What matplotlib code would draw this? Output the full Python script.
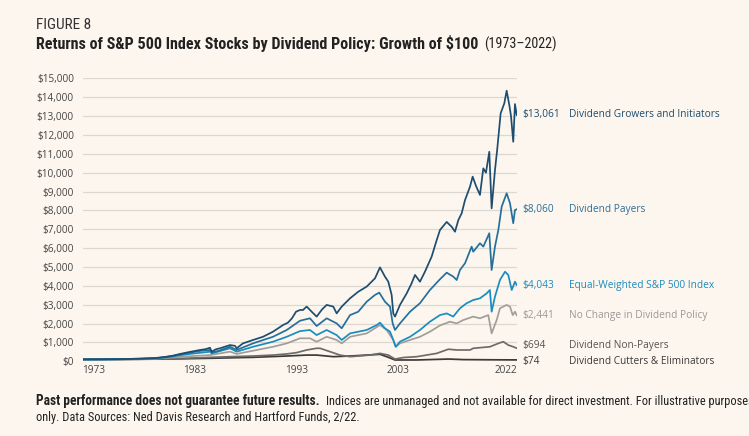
import matplotlib
matplotlib.use("Agg")
import matplotlib.pyplot as plt
from matplotlib.ticker import FuncFormatter
from matplotlib import font_manager as fm

# ---------------- data ----------------
# t = position along the chart's time axis (years, as laid out on the chart)
t_growers = [1972.00, 1973.67, 1975.65, 1977.62, 1979.09, 1980.08, 1980.87, 1981.56, 1982.54, 1983.53,
             1984.12, 1984.51, 1984.68, 1985.10, 1985.50, 1986.48, 1986.98, 1987.14, 1987.76, 1988.75,
             1989.73, 1990.72, 1991.70, 1992.19, 1992.59, 1992.99, 1993.38, 1993.67, 1994.04, 1994.53,
             1995.02, 1995.55, 1996.01, 1996.66, 1996.99, 1997.49, 1998.31, 1999.12, 1999.95, 2000.77,
             2001.26, 2001.75, 2002.08, 2002.41, 2002.57, 2002.74, 2003.23, 2003.89, 2004.38, 2004.71,
             2005.20, 2005.69, 2006.35, 2006.85, 2007.17, 2007.83, 2008.33, 2008.65, 2008.98, 2009.31,
             2009.64, 2010.13, 2010.39, 2010.72, 2011.11, 2011.44, 2011.70, 2012.03, 2012.26, 2012.59,
             2012.82, 2013.15, 2013.51, 2013.74, 2014.00, 2014.17, 2014.39, 2014.56, 2014.73]
v_growers = [100, 105, 115, 140, 170, 230, 300, 390, 500, 600,
             650, 720, 510, 640, 690, 860, 820, 690, 950, 1130,
             1300, 1570, 1920, 2050, 2280, 2630, 2720, 2720, 2900, 2630,
             2370, 2750, 2990, 2900, 2540, 2900, 3340, 3690, 3960, 4400,
             4980, 4490, 4220, 3520, 2540, 2370, 2990, 3600, 4140, 4580,
             4220, 4750, 5550, 6430, 6960, 7390, 7130, 6870, 7490, 7850,
             8550, 9260, 9790, 9300, 8820, 10230, 10000, 11110, 8110, 10140,
             11290, 13150, 13680, 14350, 13590, 13000, 11640, 13640, 13061]

t_payers = [1972.00, 1973.67, 1975.65, 1977.62, 1979.09, 1980.08, 1980.87, 1981.56, 1982.54, 1983.53,
            1984.51, 1984.68, 1985.50, 1986.48, 1987.14, 1988.75, 1990.72, 1992.07, 1993.38, 1994.36,
            1995.02, 1996.01, 1996.99, 1997.49, 1998.31, 1999.12, 1999.95, 2000.77, 2001.19, 2001.75,
            2002.25, 2002.51, 2002.74, 2003.23, 2004.22, 2005.20, 2006.18, 2007.17, 2007.83, 2008.48,
            2008.82, 2009.14, 2009.64, 2010.29, 2010.45, 2011.11, 2011.44, 2012.03, 2012.26, 2012.59,
            2012.92, 2013.25, 2013.74, 2014.07, 2014.39, 2014.56, 2014.73]
v_payers = [100, 105, 115, 140, 165, 220, 285, 360, 460, 550,
            600, 460, 580, 770, 600, 950, 1300, 1660, 2150, 2280,
            1870, 2280, 2010, 1750, 2450, 2630, 3160, 3520, 3640, 3160,
            2900, 2010, 1660, 2010, 2630, 3080, 3780, 4350, 4700, 4490,
            4310, 4840, 5200, 6080, 5810, 6260, 6080, 6790, 4840, 6080,
            6960, 8200, 8910, 8380, 7320, 8020, 8060]

t_equal = [1972.00, 1973.67, 1975.65, 1977.62, 1979.09, 1980.08, 1980.87, 1981.56, 1982.54, 1983.53,
           1984.51, 1984.68, 1986.48, 1987.14, 1988.75, 1990.72, 1992.07, 1993.38, 1994.36, 1995.02,
           1996.01, 1996.99, 1997.49, 1998.31, 1999.95, 2000.94, 2001.26, 2001.75, 2002.25, 2002.57,
           2002.81, 2003.23, 2004.22, 2005.20, 2006.18, 2007.17, 2007.83, 2008.48, 2009.14, 2009.80,
           2010.45, 2011.11, 2011.77, 2012.09, 2012.26, 2012.59, 2013.08, 2013.58, 2013.90, 2014.24,
           2014.56, 2014.73]
v_equal = [100, 100, 110, 130, 160, 205, 260, 320, 390, 450,
           510, 420, 690, 510, 770, 1040, 1300, 1600, 1660, 1390,
           1660, 1390, 1130, 1480, 1660, 1920, 2050, 1750, 1570, 1130,
           770, 1040, 1300, 1660, 2100, 2450, 2540, 2370, 2810, 3080,
           3250, 3340, 3600, 3780, 2630, 3430, 4310, 4750, 4580, 3780,
           4220, 4043]

t_nochange = [1972.00, 1973.67, 1975.65, 1977.62, 1979.09, 1980.08, 1981.56, 1982.54, 1983.53, 1984.51,
              1986.48, 1987.14, 1988.75, 1990.72, 1992.07, 1993.38, 1994.36, 1995.02, 1996.01, 1996.99,
              1997.49, 1998.31, 1999.95, 2001.26, 2001.92, 2002.57, 2002.81, 2003.23, 2004.22, 2005.20,
              2006.18, 2007.17, 2008.15, 2008.82, 2009.47, 2010.45, 2011.11, 2011.93, 2012.26, 2012.76,
              2013.08, 2013.74, 2014.07, 2014.34, 2014.56, 2014.73]
v_nochange = [100, 100, 105, 120, 140, 175, 230, 270, 300, 330,
              510, 390, 560, 770, 950, 1220, 1220, 1040, 1300, 1130,
              950, 1300, 1480, 1920, 1660, 1130, 770, 950, 1130, 1300,
              1570, 1900, 2100, 2010, 2190, 2370, 2280, 2450, 1480, 2190,
              2810, 2990, 2900, 2450, 2630, 2441]

t_nonpayers = [1972.00, 1975.65, 1979.09, 1981.56, 1984.51, 1986.48, 1988.75, 1990.72, 1992.07, 1993.05,
               1994.04, 1995.02, 1995.35, 1996.34, 1997.32, 1998.31, 2000.28, 2001.26, 2002.08, 2002.74,
               2003.56, 2004.88, 2006.85, 2007.99, 2008.82, 2010.13, 2010.45, 2012.09, 2012.92, 2013.41,
               2013.90, 2014.39, 2014.73]
v_nonpayers = [100, 100, 120, 150, 210, 245, 280, 330, 390, 460,
               600, 690, 690, 510, 330, 245, 330, 420, 330, 120,
               200, 245, 420, 640, 600, 600, 690, 770, 950, 1040,
               860, 770, 694]

t_cutters = [1972.00, 1975.65, 1979.09, 1981.56, 1984.51, 1988.75, 1992.07, 1994.04, 1995.02, 1996.66,
             1998.31, 1999.95, 2001.26, 2001.92, 2002.74, 2004.88, 2007.99, 2009.47, 2012.26, 2014.73]
v_cutters = [100, 100, 115, 130, 160, 210, 280, 330, 330, 245,
             280, 330, 370, 245, 70, 70, 120, 90, 80, 74]

series_names = ["Dividend Growers and Initiators", "Dividend Payers", "Equal-Weighted S&P 500 Index",
                "No Change in Dividend Policy", "Dividend Non-Payers", "Dividend Cutters & Eliminators"]
end_values = [13061, 8060, 4043, 2441, 694, 74]
end_labels = ["$13,061", "$8,060", "$4,043", "$2,441", "$694", "$74"]

x_tick_pos = [1973, 1983, 1993, 2003, 2013.67]
x_tick_labels = ["1973", "1983", "1993", "2003", "2022"]
y_ticks = list(range(0, 15001, 1000))

# ---------------- style ----------------
BG = "#fcf6ee"
line_colors = ["#1d4d70", "#23709c", "#1a8cc0", "#a19e9a", "#6e6c6a", "#3c3a39"]
label_colors = ["#1d4d70", "#2a6f98", "#1d8bbd", "#9b9896", "#555452", "#3a3938"]
label_offsets_pt = [0, 0, 0, 0, 1.6, -0.8]

SANS = ["Open Sans", "DejaVu Sans"]


def pick_condensed():
    names = {}
    for f in fm.fontManager.ttflist:
        names.setdefault(f.name, set()).add(str(f.stretch))
    for cand in ["Liberation Sans Narrow", "Roboto Condensed", "Open Sans Condensed",
                 "DejaVu Sans Condensed", "Noto Sans Condensed"]:
        if cand in names:
            return [cand, "DejaVu Sans"], "normal"
    for fam in ["Roboto", "Open Sans", "Noto Sans", "DejaVu Sans", "Liberation Sans"]:
        if fam in names and ("condensed" in names[fam] or "semi-condensed" in names[fam]):
            return [fam, "DejaVu Sans"], "condensed"
    for fam in ["Roboto", "Liberation Sans", "Inter"]:
        if fam in names:
            return [fam, "DejaVu Sans"], "normal"
    return ["DejaVu Sans"], "normal"


NARROW, STRETCH = pick_condensed()

fig = plt.figure(figsize=(7.49, 4.36), dpi=100, facecolor=BG)
ax = fig.add_axes([83 / 749, 1 - 361.3 / 436, (516.7 - 83) / 749, 282.9 / 436])
ax.set_facecolor(BG)

ts = [t_cutters, t_nonpayers, t_nochange, t_equal, t_payers, t_growers]
vs = [v_cutters, v_nonpayers, v_nochange, v_equal, v_payers, v_growers]
cols = line_colors[::-1]
for t, v, c in zip(ts, vs, cols):
    ax.plot(t, v, color=c, lw=1.25, solid_joinstyle="round", zorder=3)

ax.set_xlim(t_growers[0], t_growers[-1])
ax.set_ylim(0, 15000)
ax.set_yticks(y_ticks)
ax.yaxis.set_major_formatter(FuncFormatter(lambda v, p: "${:,.0f}".format(v)))
ax.set_xticks(x_tick_pos)
ax.set_xticklabels(x_tick_labels)
ax.grid(axis="y", color="#dcd8d1", lw=0.9, zorder=0)
for s in ax.spines.values():
    s.set_visible(False)
ax.tick_params(axis="both", length=0, colors="#454545", labelsize=7.2)
ax.tick_params(axis="y", pad=6.5)
ax.tick_params(axis="x", pad=3)
for lab in ax.get_xticklabels() + ax.get_yticklabels():
    lab.set_family(SANS)

# end labels
for val, lab, name, c, off in zip(end_values, end_labels, series_names, label_colors, label_offsets_pt):
    ax.annotate(lab, xy=(1, val), xycoords=("axes fraction", "data"),
                xytext=(4.0, off), textcoords="offset points",
                va="center", ha="left", fontsize=7.3, color=c, family=SANS, annotation_clip=False)
    ax.annotate(name, xy=(1, val), xycoords=("axes fraction", "data"),
                xytext=(38.0, off), textcoords="offset points",
                va="center", ha="left", fontsize=7.3, color=c, family=SANS, annotation_clip=False)

fig.canvas.draw()
r = fig.canvas.get_renderer()
W = fig.bbox.width


def fit_text(x_px, y_px, s, target_w, size, **kw):
    t = fig.text(x_px / 749, 1 - y_px / 436, s, fontsize=size, family=NARROW, stretch=STRETCH,
                 va="baseline", **kw)
    w = t.get_window_extent(r).width
    t.set_fontsize(size * target_w / w)
    return t


# titles
fit_text(36, 29, "FIGURE 8", 56, 10.5, color="#333333")
fit_text(36, 49, "Returns of S&P 500 Index Stocks by Dividend Policy: Growth of $100", 443, 11.5,
         weight="bold", color="#222222")
fit_text(484, 49, "(1973\u20132022)", 73, 11.5, color="#222222")

fit_text(36, 405, "Past performance does not guarantee future results.", 285, 9.2,
         weight="bold", color="#222222")
f2 = fit_text(36, 421, "only. Data Sources: Ned Davis Research and Hartford Funds, 2/22.", 324, 9.2,
              color="#222222")
fig.text(326 / 749, 1 - 405 / 436,
         "Indices are unmanaged and not available for direct investment. For illustrative purposes",
         fontsize=f2.get_fontsize(), color="#222222", family=NARROW, stretch=STRETCH, va="baseline")

fig.savefig("out.png", dpi=100, facecolor=BG)
